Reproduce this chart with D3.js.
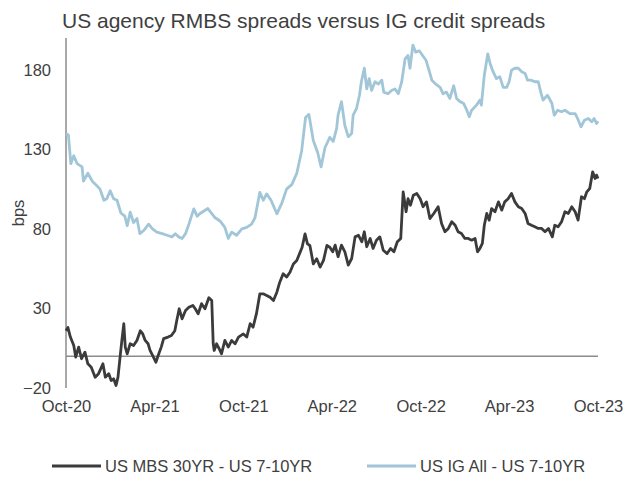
<!DOCTYPE html>
<html>
<head>
<meta charset="utf-8">
<script src="https://cdn.jsdelivr.net/npm/d3@7"></script>
<style>
  body { margin: 0; background: #fff; }
  svg text { font-family: "Liberation Sans", Arial, sans-serif; }
</style>
</head>
<body>
<svg id="chart" width="640" height="478"></svg>
<script>
// ─── Data ───
const TITLE = "US agency RMBS spreads versus IG credit spreads";
const Y_LABEL = "bps";
const yTicks = [-20, 30, 80, 130, 180];
const xTicks = ["2020-10-01", "2021-04-01", "2021-10-01", "2022-04-01", "2022-10-01", "2023-04-01", "2023-10-01"];
const seriesNames = ["US MBS 30YR - US 7-10YR", "US IG All - US 7-10YR"];

const mbsSpread = [
  ["2020-10-01", 16], ["2020-10-05", 18], ["2020-10-10", 12], ["2020-10-17", 6.7], ["2020-10-21", -0.6],
  ["2020-10-27", 5.7], ["2020-11-02", -1.6], ["2020-11-09", 2.5], ["2020-11-15", -4.8], ["2020-11-22", -6.9],
  ["2020-11-30", -13.2], ["2020-12-07", -11], ["2020-12-16", -4.8], ["2020-12-21", -13.2], ["2020-12-28", -11],
  ["2021-01-02", -15.3], ["2021-01-07", -14.2], ["2021-01-12", -18.4], ["2021-01-16", -13.2], ["2021-01-21", 1.5],
  ["2021-01-24", 9.9], ["2021-01-28", 20.4], ["2021-01-31", 5.7], ["2021-02-04", 1.5], ["2021-02-10", 7.8],
  ["2021-02-17", 6.7], ["2021-02-24", 9.9], ["2021-03-03", 16], ["2021-03-08", 14], ["2021-03-13", 9.9],
  ["2021-03-19", 7.8], ["2021-03-23", 3.6], ["2021-03-30", -0.6], ["2021-04-04", -3.8], ["2021-04-10", 1.5],
  ["2021-04-15", 5.7], ["2021-04-20", 11], ["2021-04-29", 12], ["2021-05-06", 13], ["2021-05-13", 16],
  ["2021-05-17", 22.4], ["2021-05-22", 29.8], ["2021-05-28", 23.5], ["2021-06-04", 28.7], ["2021-06-11", 30.8],
  ["2021-06-19", 31.9], ["2021-06-24", 29.8], ["2021-06-30", 26.7], ["2021-07-07", 33], ["2021-07-14", 29.8],
  ["2021-07-22", 36.7], ["2021-07-28", 35], ["2021-07-31", 7.8], ["2021-08-02", 3.6], ["2021-08-07", 7.8],
  ["2021-08-14", 3.6], ["2021-08-17", 1.5], ["2021-08-24", 9.9], ["2021-08-31", 5.7], ["2021-09-07", 9.9],
  ["2021-09-14", 7.8], ["2021-09-21", 12], ["2021-10-01", 14], ["2021-10-08", 12], ["2021-10-15", 20.4],
  ["2021-10-21", 18.2], ["2021-10-28", 26.7], ["2021-11-04", 39.2], ["2021-11-11", 39.2], ["2021-11-18", 38.2],
  ["2021-11-25", 37], ["2021-12-02", 35], ["2021-12-09", 40.2], ["2021-12-15", 46.5], ["2021-12-22", 51.8],
  ["2021-12-29", 49.7], ["2022-01-05", 52.8], ["2022-01-12", 58], ["2022-01-19", 60.2], ["2022-01-26", 65.4],
  ["2022-01-30", 68.5], ["2022-02-05", 76.9], ["2022-02-10", 70.6], ["2022-02-15", 69.6], ["2022-02-22", 58],
  ["2022-03-01", 61.2], ["2022-03-08", 56], ["2022-03-15", 60.2], ["2022-03-22", 69.6], ["2022-03-28", 68.5],
  ["2022-04-03", 65.6], ["2022-04-08", 69.8], ["2022-04-14", 62.5], ["2022-04-21", 69.8], ["2022-04-28", 65.6],
  ["2022-05-05", 57.2], ["2022-05-12", 61.4], ["2022-05-19", 75], ["2022-05-26", 76], ["2022-06-02", 71.9],
  ["2022-06-07", 78.2], ["2022-06-12", 68.8], ["2022-06-19", 74], ["2022-06-25", 67.7], ["2022-07-02", 72.9],
  ["2022-07-09", 75], ["2022-07-16", 66.6], ["2022-07-24", 64.5], ["2022-07-31", 67.7], ["2022-08-07", 65.6],
  ["2022-08-14", 71.9], ["2022-08-21", 74], ["2022-08-26", 103.3], ["2022-09-01", 90.8], ["2022-09-05", 99],
  ["2022-09-10", 94.9], ["2022-09-16", 101.2], ["2022-09-23", 102.3], ["2022-09-30", 99], ["2022-10-06", 93.9],
  ["2022-10-13", 97], ["2022-10-20", 86.5], ["2022-10-28", 89.7], ["2022-11-06", 93.9], ["2022-11-13", 83.4],
  ["2022-11-20", 78.2], ["2022-11-27", 80.3], ["2022-12-04", 84.5], ["2022-12-11", 82.3], ["2022-12-17", 78.2],
  ["2022-12-24", 77.1], ["2022-12-31", 74], ["2023-01-07", 74], ["2023-01-14", 72.9], ["2023-01-21", 74],
  ["2023-01-26", 65.6], ["2023-01-31", 67.7], ["2023-02-05", 70.9], ["2023-02-09", 82.3], ["2023-02-14", 89.7],
  ["2023-02-19", 85.5], ["2023-02-24", 92.8], ["2023-03-03", 90.8], ["2023-03-10", 97], ["2023-03-17", 91.8],
  ["2023-03-23", 97], ["2023-03-30", 99], ["2023-04-06", 102.3], ["2023-04-13", 97], ["2023-04-20", 93.9],
  ["2023-04-27", 92.8], ["2023-05-04", 89.7], ["2023-05-10", 83.4], ["2023-05-17", 82.3], ["2023-05-24", 81.3],
  ["2023-05-31", 80.3], ["2023-06-07", 80.3], ["2023-06-14", 78.2], ["2023-06-21", 80.3], ["2023-06-29", 75],
  ["2023-07-04", 82.3], ["2023-07-11", 81.3], ["2023-07-18", 84.5], ["2023-07-25", 90.8], ["2023-08-01", 89.7],
  ["2023-08-08", 93.9], ["2023-08-15", 90.8], ["2023-08-21", 85.5], ["2023-08-28", 100.2], ["2023-09-03", 99],
  ["2023-09-08", 103.3], ["2023-09-14", 105.4], ["2023-09-20", 115.9], ["2023-09-25", 111.7], ["2023-09-28", 113.8],
  ["2023-10-01", 111.7],
];

const igSpread = [
  ["2020-10-01", 139.8], ["2020-10-06", 139], ["2020-10-11", 121], ["2020-10-17", 126], ["2020-10-24", 121],
  ["2020-11-03", 119], ["2020-11-06", 110], ["2020-11-15", 115], ["2020-11-24", 110], ["2020-12-04", 107],
  ["2020-12-10", 105], ["2020-12-18", 98], ["2020-12-24", 99], ["2020-12-31", 104], ["2021-01-07", 99],
  ["2021-01-14", 98], ["2021-01-22", 90], ["2021-01-30", 88], ["2021-02-04", 82], ["2021-02-10", 90.5],
  ["2021-02-17", 84], ["2021-02-24", 86.5], ["2021-03-02", 77], ["2021-03-10", 79], ["2021-03-20", 83],
  ["2021-03-28", 80], ["2021-04-06", 78], ["2021-04-17", 77], ["2021-04-27", 76], ["2021-05-07", 75],
  ["2021-05-14", 77], ["2021-05-21", 75], ["2021-05-28", 74], ["2021-06-04", 77], ["2021-06-11", 83],
  ["2021-06-21", 92.6], ["2021-06-28", 88], ["2021-07-04", 89.7], ["2021-07-20", 92.8], ["2021-08-04", 87],
  ["2021-08-14", 85], ["2021-08-24", 81], ["2021-08-31", 74], ["2021-09-07", 78], ["2021-09-17", 76],
  ["2021-09-28", 80], ["2021-10-08", 81], ["2021-10-18", 83], ["2021-10-25", 87], ["2021-11-04", 103],
  ["2021-11-11", 98], ["2021-11-18", 102], ["2021-11-27", 98], ["2021-12-09", 89.5], ["2021-12-19", 96],
  ["2021-12-29", 105], ["2022-01-09", 108], ["2022-01-19", 115], ["2022-01-29", 129], ["2022-02-06", 150],
  ["2022-02-13", 152], ["2022-02-22", 135.6], ["2022-03-03", 128], ["2022-03-10", 119], ["2022-03-18", 131],
  ["2022-03-28", 137.6], ["2022-04-04", 135], ["2022-04-11", 143], ["2022-04-14", 151.5], ["2022-04-21", 160],
  ["2022-04-28", 145], ["2022-05-05", 138], ["2022-05-12", 140], ["2022-05-15", 151.5], ["2022-05-22", 155.7],
  ["2022-05-28", 164], ["2022-06-01", 172.5], ["2022-06-07", 181], ["2022-06-12", 168], ["2022-06-17", 174.5],
  ["2022-06-22", 167], ["2022-06-29", 172.5], ["2022-07-06", 171], ["2022-07-13", 173.5], ["2022-07-17", 166],
  ["2022-07-26", 165], ["2022-08-02", 167], ["2022-08-09", 168], ["2022-08-16", 165], ["2022-08-23", 172.5],
  ["2022-08-30", 187], ["2022-09-05", 189], ["2022-09-09", 181], ["2022-09-15", 195.5], ["2022-09-21", 191],
  ["2022-09-28", 192], ["2022-10-05", 189], ["2022-10-12", 186], ["2022-10-17", 181], ["2022-10-24", 173.5],
  ["2022-11-01", 171], ["2022-11-10", 169], ["2022-11-16", 165], ["2022-11-23", 166], ["2022-11-30", 162],
  ["2022-12-08", 170], ["2022-12-14", 162], ["2022-12-21", 160], ["2022-12-28", 159], ["2023-01-04", 154.6],
  ["2023-01-09", 150.5], ["2023-01-14", 154.6], ["2023-01-24", 157.8], ["2023-01-31", 161], ["2023-02-03", 157.8],
  ["2023-02-09", 176.6], ["2023-02-16", 190], ["2023-02-21", 184], ["2023-02-27", 178.8], ["2023-03-06", 174.5],
  ["2023-03-13", 175.6], ["2023-03-20", 169], ["2023-03-27", 169], ["2023-04-01", 172.5], ["2023-04-06", 179.8],
  ["2023-04-13", 181], ["2023-04-20", 181], ["2023-04-27", 178.8], ["2023-05-04", 177.7], ["2023-05-09", 173.5],
  ["2023-05-16", 173.5], ["2023-05-24", 172.5], ["2023-05-31", 172.5], ["2023-06-06", 165], ["2023-06-10", 161],
  ["2023-06-19", 164], ["2023-06-28", 159], ["2023-07-03", 151.5], ["2023-07-10", 154.6], ["2023-07-18", 153.6],
  ["2023-07-25", 154.6], ["2023-08-04", 152.5], ["2023-08-15", 152.5], ["2023-08-20", 149.4], ["2023-08-27", 144.2],
  ["2023-09-03", 148.3], ["2023-09-11", 149.4], ["2023-09-18", 147.3], ["2023-09-23", 149.4], ["2023-09-28", 146.3],
  ["2023-10-01", 147.7],
];

const COLORS = ["#3b3b3b", "#a0c6d8"];

// ─── Layout ───
const MARGIN = { left: 66, right: 42, top: 38, bottom: 90 };
const W = 640, H = 478;
const parse = d3.timeParse("%Y-%m-%d");

const svg = d3.select("#chart");

const x = d3.scaleTime()
  .domain([parse(xTicks[0]), parse(xTicks[xTicks.length - 1])])
  .range([MARGIN.left, W - MARGIN.right]);
const y = d3.scaleLinear()
  .domain([-20, 200])
  .range([H - MARGIN.bottom, MARGIN.top]);

// title
svg.append("text")
  .attr("x", 62)
  .attr("y", 28)
  .attr("font-size", "21px")
  .attr("fill", "#404040")
  .text(TITLE);

// y axis (labels only, line drawn separately)
const yAxis = svg.append("g")
  .attr("transform", `translate(${MARGIN.left},0)`)
  .call(d3.axisLeft(y).tickValues(yTicks).tickSize(0).tickPadding(15));
yAxis.select(".domain").remove();
yAxis.selectAll("text")
  .attr("font-size", "16.5px")
  .attr("fill", "#404040")
  .style("font-family", '"Liberation Sans", Arial, sans-serif');

svg.append("line")
  .attr("x1", MARGIN.left).attr("x2", MARGIN.left)
  .attr("y1", y(200)).attr("y2", y(-20))
  .attr("stroke", "#8c8c8c")
  .attr("stroke-width", 1.5);

svg.append("text")
  .attr("transform", `translate(24,${(y(200) + y(-20)) / 2}) rotate(-90)`)
  .attr("text-anchor", "middle")
  .attr("font-size", "16.5px")
  .attr("fill", "#404040")
  .text(Y_LABEL);

// x axis labels along the bottom
const xAxis = svg.append("g")
  .attr("transform", `translate(0,${y(-20)})`)
  .call(d3.axisBottom(x)
    .tickValues(xTicks.map(parse))
    .tickFormat(d3.timeFormat("%b-%y"))
    .tickSize(0)
    .tickPadding(12));
xAxis.select(".domain").remove();
xAxis.selectAll("text")
  .attr("font-size", "16.5px")
  .attr("fill", "#404040")
  .style("font-family", '"Liberation Sans", Arial, sans-serif');

// zero line
svg.append("line")
  .attr("x1", x.range()[0]).attr("x2", x.range()[1])
  .attr("y1", y(0)).attr("y2", y(0))
  .attr("stroke", "#8c8c8c")
  .attr("stroke-width", 1.5);

// ─── Lines ───
const line = d3.line()
  .x((d) => x(parse(d[0])))
  .y((d) => y(d[1]));

svg.append("path")
  .datum(igSpread)
  .attr("fill", "none")
  .attr("stroke", COLORS[1])
  .attr("stroke-width", 2.8)
  .attr("stroke-linejoin", "round")
  .attr("d", line);

svg.append("path")
  .datum(mbsSpread)
  .attr("fill", "none")
  .attr("stroke", COLORS[0])
  .attr("stroke-width", 2.8)
  .attr("stroke-linejoin", "round")
  .attr("d", line);

// ─── Legend ───
const legendY = 466;
const legendX = [52, 367];
seriesNames.forEach((name, i) => {
  const g = svg.append("g").attr("transform", `translate(${legendX[i]},${legendY})`);
  g.append("line")
    .attr("x1", 0).attr("x2", 49)
    .attr("stroke", COLORS[i])
    .attr("stroke-width", 3);
  g.append("text")
    .attr("x", 53)
    .attr("dy", "0.35em")
    .attr("font-size", "16.5px")
    .attr("fill", "#404040")
    .text(name);
});
</script>
</body>
</html>
